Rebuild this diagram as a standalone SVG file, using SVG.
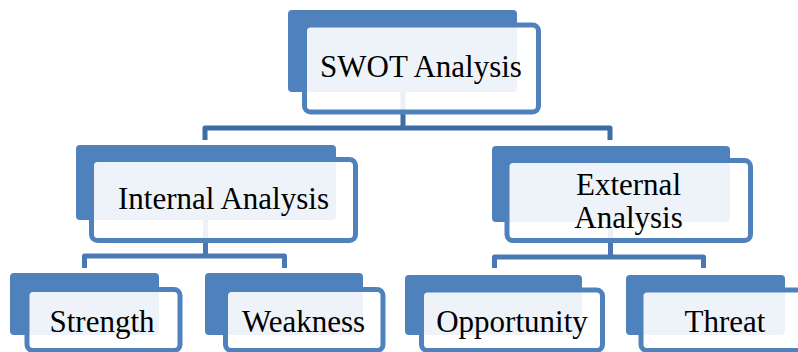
<svg xmlns="http://www.w3.org/2000/svg" width="798" height="352" viewBox="0 0 798 352">
  <style>
    .back { fill: #4F81BD; }
    .front { fill: #FFFFFF; fill-opacity: 0.9; stroke: #4F81BD; stroke-width: 5; }
    .label { font-family: "Liberation Serif", "Times New Roman", serif; font-size: 31px; fill: #000000; text-anchor: middle; }
    .conn-top { fill: none; stroke: #3F6DA3; stroke-width: 5; stroke-linejoin: round; }
    .conn-low { fill: none; stroke: #4978B3; stroke-width: 5; stroke-linejoin: round; }
  </style>
  <rect width="798" height="352" fill="#FFFFFF"/>

  <!-- connectors are drawn first so the translucent card fills let them show through -->
  <g id="connectors">
    <path class="conn-top" d="M403 92 V128 M205 140 V128 H610 V140"/>
    <path class="conn-low" d="M205.5 220 V256 M84.5 268 V256 H284.5 V268"/>
    <path class="conn-low" d="M610.5 222 V257 M494.5 268 V257 H703.5 V268"/>
  </g>

  <g id="node-swot">
    <rect class="back" x="288" y="10" width="229" height="82" rx="4"/>
    <rect class="front" x="304.5" y="25" width="234" height="87" rx="6"/>
    <text class="label" x="421" y="77">SWOT Analysis</text>
  </g>

  <g id="node-internal">
    <rect class="back" x="76" y="145" width="260" height="75" rx="4"/>
    <rect class="front" x="91.5" y="159.5" width="264" height="81" rx="6"/>
    <text class="label" x="223.5" y="209">Internal Analysis</text>
  </g>

  <g id="node-external">
    <rect class="back" x="492" y="146" width="238" height="76" rx="4"/>
    <rect class="front" x="507" y="160.5" width="243.5" height="80" rx="6"/>
    <text class="label" x="628.5" y="195">External</text>
    <text class="label" x="628.5" y="228">Analysis</text>
  </g>

  <g id="node-strength">
    <rect class="back" x="10" y="273" width="149" height="62" rx="4"/>
    <rect class="front" x="27" y="289.5" width="153" height="61" rx="6"/>
    <text class="label" x="102" y="332">Strength</text>
  </g>

  <g id="node-weakness">
    <rect class="back" x="205" y="273" width="158" height="62" rx="4"/>
    <rect class="front" x="225.5" y="289.5" width="157.5" height="61" rx="6"/>
    <text class="label" x="303.5" y="332">Weakness</text>
  </g>

  <g id="node-opportunity">
    <rect class="back" x="405" y="275" width="177" height="60" rx="4"/>
    <rect class="front" x="421.5" y="290" width="181" height="60.5" rx="6"/>
    <text class="label" x="512" y="332">Opportunity</text>
  </g>

  <g id="node-threat">
    <rect class="back" x="626" y="275" width="159" height="60" rx="4"/>
    <rect class="front" x="641" y="290" width="168" height="60.5" rx="6"/>
    <text class="label" x="725" y="332">Threat</text>
  </g>
</svg>
